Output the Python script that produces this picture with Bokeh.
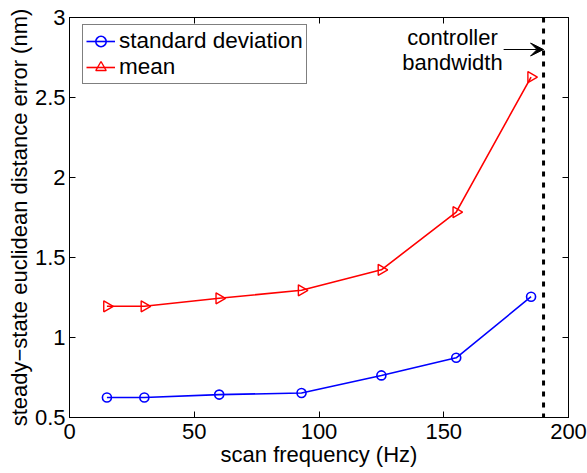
import math

from bokeh.core.properties import value
from bokeh.embed import file_html
from bokeh.models import (Arrow, FixedTicker, Legend, LegendItem, LinearAxis,
                          Range1d, Span, VeeHead)
from bokeh.plotting import figure
from bokeh.resources import INLINE

# scan frequency (Hz) and steady-state euclidean distance error (nm)
scan_freq = [15, 30, 60, 93, 125, 155, 185]
std_dev = [0.625, 0.625, 0.643, 0.653, 0.763, 0.873, 1.255]
mean_err = [1.195, 1.195, 1.245, 1.295, 1.423, 1.783, 2.628]

x_ticks = [0, 50, 100, 150, 200]
y_ticks = [0.5, 1, 1.5, 2, 2.5, 3]

bandwidth_hz = 190
arrow_from_hz = 174
arrow_level = 2.8
note_x = 153.5
note_lines = ["controller", "bandwidth"]
note_levels = [2.875, 2.72]

FONT = "Liberation Sans"
FS = "22px"

p = figure(width=587, height=473, output_backend="svg", toolbar_location=None,
           x_range=Range1d(0, 200), y_range=Range1d(0.5, 3),
           min_border_left=69, min_border_right=19,
           min_border_top=17, min_border_bottom=56)
p.background_fill_color = "white"
p.border_fill_color = "white"
p.outline_line_color = "black"
p.outline_line_width = 1
p.xgrid.visible = False
p.ygrid.visible = False

for ax in (p.xaxis[0], p.yaxis[0]):
    ax.major_tick_in = 6
    ax.major_tick_out = 0
    ax.minor_tick_line_color = None
    ax.axis_line_color = "black"
    ax.major_tick_line_color = "black"
    ax.major_label_text_font = FONT
    ax.major_label_text_font_size = FS
    ax.major_label_text_color = "black"
    ax.axis_label_text_font = FONT
    ax.axis_label_text_font_size = FS
    ax.axis_label_text_font_style = "normal"
    ax.axis_label_text_color = "black"

p.xaxis[0].ticker = FixedTicker(ticks=x_ticks)
p.yaxis[0].ticker = FixedTicker(ticks=y_ticks)
p.xaxis[0].axis_label = "scan frequency (Hz)"
p.yaxis[0].axis_label = "steady\u2212state euclidean distance error (nm)"
p.xaxis[0].major_label_standoff = 6
p.xaxis[0].axis_label_standoff = 0
p.yaxis[0].major_label_standoff = 4
p.yaxis[0].axis_label_standoff = 0
p.yaxis[0].major_label_orientation = "horizontal"

# inward ticks on the top and right edges of the box
for side, ticks in (("above", x_ticks), ("right", y_ticks)):
    ax = LinearAxis(ticker=FixedTicker(ticks=ticks),
                    major_label_overrides={t: "" for t in ticks})
    ax.major_tick_in = 6
    ax.major_tick_out = 0
    ax.minor_tick_line_color = None
    ax.axis_line_color = "black"
    ax.major_label_standoff = 0
    p.add_layout(ax, side)

# controller bandwidth marker
p.add_layout(Span(location=bandwidth_hz, dimension="height", line_color="black",
                  line_width=3, line_dash="5 6"))
p.add_layout(Arrow(x_start=arrow_from_hz, y_start=arrow_level,
                   x_end=bandwidth_hz, y_end=arrow_level,
                   line_color="black", line_width=1,
                   end=VeeHead(size=13, fill_color="black", line_color="black")))
p.text(x=[note_x] * 2, y=note_levels, text=note_lines,
       text_font=value(FONT), text_font_size=FS, text_color="black",
       text_align="center", text_baseline="middle")

sd_line = p.line(scan_freq, std_dev, line_color="#0000ff", line_width=1.6)
sd_mark = p.scatter(scan_freq, std_dev, marker="circle", size=9,
                    line_color="#0000ff", line_width=1.6, fill_color=None)
mn_line = p.line(scan_freq, mean_err, line_color="#ff0000", line_width=1.6)
mn_mark = p.scatter(scan_freq, mean_err, marker="triangle", size=11,
                    angle=-math.pi / 2, line_color="#ff0000", line_width=1.4,
                    fill_color=None)

legend = Legend(items=[
    LegendItem(label="standard deviation", renderers=[sd_line, sd_mark]),
    LegendItem(label="mean", renderers=[mn_line, mn_mark]),
], location=(13, 333))
legend.label_text_font = FONT
legend.label_text_font_size = "22.5px"
legend.label_text_color = "black"
legend.padding = 3
legend.spacing = 0
legend.margin = 0
legend.glyph_width = 29
legend.glyph_height = 26
legend.label_height = 26
legend.label_standoff = 4
legend.border_line_color = "black"
legend.border_line_width = 1
legend.background_fill_color = "white"
legend.background_fill_alpha = 1
p.add_layout(legend, "center")

open("out.html", "w").write(file_html(p, INLINE))
